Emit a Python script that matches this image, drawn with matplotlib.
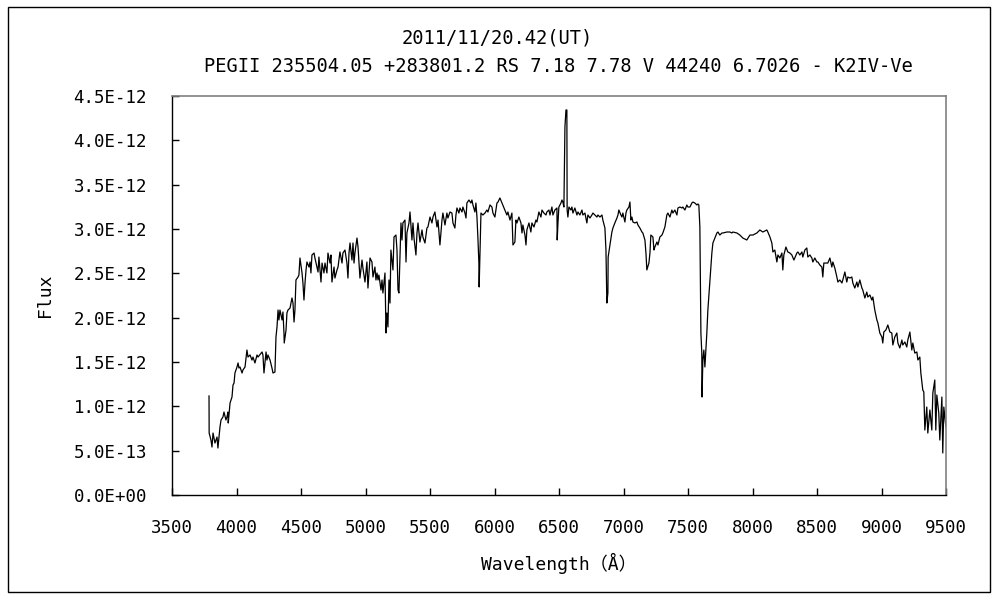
import numpy as np
import matplotlib
matplotlib.use("Agg")
import matplotlib.pyplot as plt
from matplotlib.ticker import FuncFormatter
from matplotlib.patches import Rectangle

title_line1 = "2011/11/20.42(UT)"
title_line2 = "PEGII 235504.05 +283801.2 RS 7.18 7.78 V 44240 6.7026 - K2IV-Ve"
x_label = "Wavelength（Å）"
y_label = "Flux"

# Wavelength (Angstrom)
wavelength = [
    3787, 3788, 3802, 3810, 3818, 3833, 3849, 3856, 3864, 3872, 3880, 3895, 3903, 3918, 3926, 3934, 3936,
    3950, 3965, 3973, 3981, 3988, 4004, 4012, 4019, 4027, 4043, 4050, 4066, 4081, 4089, 4105, 4120, 4128,
    4143, 4159, 4167, 4198, 4205, 4213, 4229, 4236, 4244, 4260, 4275, 4283, 4298, 4306, 4314, 4322, 4329,
    4337, 4353, 4360, 4368, 4370, 4384, 4391, 4399, 4415, 4430, 4438, 4446, 4453, 4461, 4477, 4484, 4492,
    4508, 4515, 4523, 4531, 4539, 4546, 4562, 4570, 4577, 4585, 4601, 4608, 4624, 4632, 4639, 4655, 4663,
    4678, 4686, 4701, 4709, 4725, 4732, 4740, 4756, 4763, 4779, 4787, 4802, 4818, 4825, 4841, 4856, 4864,
    4872, 4880, 4895, 4903, 4911, 4918, 4934, 4942, 4957, 4973, 4980, 4996, 5011, 5019, 5035, 5050, 5058,
    5073, 5081, 5089, 5097, 5104, 5120, 5128, 5135, 5151, 5159, 5166, 5174, 5182, 5190, 5197, 5213, 5221,
    5236, 5244, 5252, 5259, 5275, 5283, 5290, 5306, 5314, 5321, 5337, 5345, 5360, 5368, 5376, 5391, 5399,
    5407, 5422, 5438, 5445, 5461, 5476, 5484, 5500, 5515, 5523, 5538, 5554, 5562, 5577, 5593, 5600, 5616,
    5631, 5639, 5655, 5670, 5678, 5693, 5701, 5709, 5724, 5732, 5748, 5755, 5771, 5779, 5786, 5802, 5817,
    5825, 5833, 5848, 5856, 5864, 5872, 5879, 5881, 5895, 5910, 5926, 5941, 5949, 5965, 5980, 5988, 6003,
    6019, 6027, 6042, 6058, 6065, 6081, 6096, 6104, 6120, 6135, 6143, 6158, 6166, 6174, 6189, 6205, 6213,
    6220, 6236, 6244, 6251, 6267, 6282, 6290, 6306, 6321, 6329, 6344, 6360, 6368, 6383, 6399, 6406, 6422,
    6430, 6445, 6453, 6468, 6484, 6486, 6492, 6499, 6515, 6523, 6530, 6538, 6546, 6554, 6561, 6563, 6569,
    6577, 6592, 6600, 6608, 6623, 6639, 6647, 6662, 6678, 6685, 6701, 6716, 6724, 6740, 6755, 6763, 6778,
    6794, 6802, 6817, 6833, 6840, 6856, 6864, 6871, 6879, 6881, 6887, 6902, 6910, 6918, 6933, 6949, 6957,
    6964, 6980, 6988, 6995, 7011, 7019, 7026, 7042, 7050, 7057, 7065, 7073, 7088, 7104, 7112, 7127, 7143,
    7150, 7166, 7174, 7181, 7197, 7205, 7212, 7228, 7236, 7243, 7259, 7267, 7282, 7298, 7305, 7321, 7336,
    7344, 7360, 7375, 7383, 7398, 7414, 7422, 7437, 7453, 7460, 7476, 7491, 7499, 7515, 7530, 7538, 7553,
    7569, 7577, 7584, 7592, 7600, 7607, 7609, 7615, 7623, 7631, 7646, 7654, 7670, 7685, 7693, 7708, 7724,
    7732, 7747, 7763, 7771, 7801, 7825, 7840, 7848, 7879, 7902, 7925, 7956, 7980, 8003, 8034, 8057, 8080,
    8111, 8119, 8135, 8150, 8158, 8173, 8189, 8197, 8212, 8228, 8235, 8243, 8259, 8274, 8290, 8305, 8321,
    8344, 8352, 8367, 8383, 8390, 8406, 8421, 8429, 8445, 8460, 8468, 8483, 8499, 8507, 8522, 8538, 8545,
    8553, 8576, 8584, 8600, 8615, 8623, 8638, 8654, 8662, 8677, 8693, 8700, 8716, 8731, 8739, 8755, 8770,
    8778, 8793, 8809, 8817, 8832, 8848, 8855, 8871, 8886, 8894, 8910, 8925, 8933, 8948, 8964, 8972, 8987,
    9003, 9010, 9018, 9034, 9049, 9065, 9080, 9088, 9103, 9119, 9127, 9142, 9158, 9165, 9181, 9196, 9204,
    9220, 9235, 9243, 9258, 9274, 9282, 9297, 9305, 9320, 9328, 9336, 9351, 9359, 9375, 9390, 9398, 9413,
    9421, 9429, 9444, 9452, 9468, 9475, 9483, 9499,
]

# Flux in units of 1E-12
flux_e12 = [
    1.117, 0.699, 0.620, 0.541, 0.699, 0.586, 0.654, 0.530, 0.643, 0.767, 0.846, 0.880, 0.936, 0.846, 0.880, 0.936, 0.812,
    1.038, 1.105, 1.241, 1.263, 1.376, 1.444, 1.489, 1.432, 1.444, 1.376, 1.410, 1.444, 1.635, 1.556, 1.579, 1.522, 1.556,
    1.489, 1.579, 1.556, 1.613, 1.579, 1.376, 1.613, 1.522, 1.579, 1.522, 1.432, 1.376, 1.387, 1.782, 1.895, 2.086, 1.974,
    2.086, 1.974, 2.064, 1.827, 1.714, 1.861, 2.053, 2.086, 2.109, 2.222, 2.165, 1.951, 2.086, 2.425, 2.459, 2.481, 2.673,
    2.504, 2.391, 2.199, 2.391, 2.538, 2.628, 2.571, 2.628, 2.504, 2.707, 2.729, 2.673, 2.571, 2.515, 2.684, 2.402, 2.616,
    2.504, 2.616, 2.504, 2.729, 2.616, 2.707, 2.402, 2.571, 2.447, 2.538, 2.571, 2.741, 2.616, 2.729, 2.763, 2.616, 2.447,
    2.729, 2.842, 2.650, 2.842, 2.616, 2.729, 2.898, 2.797, 2.447, 2.650, 2.560, 2.402, 2.628, 2.334, 2.673, 2.628, 2.459,
    2.571, 2.425, 2.504, 2.425, 2.481, 2.312, 2.425, 2.278, 2.504, 1.827, 2.053, 1.895, 2.425, 2.165, 2.763, 2.538, 2.910,
    2.932, 2.763, 2.312, 2.278, 3.068, 2.876, 3.068, 3.101, 2.628, 2.955, 3.068, 3.192, 2.876, 3.068, 2.898, 2.707, 2.955,
    3.068, 2.853, 2.989, 2.910, 2.842, 3.011, 3.023, 3.135, 3.068, 3.135, 3.192, 3.023, 3.101, 2.820, 3.101, 3.180, 3.045,
    3.180, 3.124, 3.192, 3.180, 3.068, 3.011, 3.158, 3.237, 3.180, 3.237, 3.192, 3.248, 3.180, 3.124, 3.293, 3.327, 3.293,
    3.327, 3.271, 3.192, 3.293, 3.135, 2.876, 2.616, 2.346, 3.180, 3.158, 3.180, 3.214, 3.192, 3.271, 3.248, 3.180, 3.135,
    3.293, 3.304, 3.350, 3.293, 3.271, 3.214, 3.158, 3.192, 3.101, 3.180, 2.820, 2.853, 3.101, 3.068, 3.135, 3.068, 2.955,
    3.045, 2.932, 2.820, 2.989, 3.068, 2.966, 3.068, 3.023, 3.101, 3.079, 3.192, 3.135, 3.214, 3.180, 3.158, 3.192, 3.214,
    3.158, 3.248, 3.158, 3.214, 3.237, 2.876, 3.068, 3.248, 3.293, 3.327, 3.304, 3.248, 4.150, 4.342, 4.342, 3.214, 3.135,
    3.248, 3.214, 3.248, 3.180, 3.237, 3.158, 3.192, 3.158, 3.214, 3.158, 3.180, 3.068, 3.158, 3.124, 3.158, 3.180, 3.158,
    3.135, 3.158, 3.135, 3.158, 3.101, 3.011, 2.763, 2.165, 2.278, 2.684, 2.741, 2.876, 2.966, 3.011, 3.068, 3.124, 3.158,
    3.214, 3.158, 3.135, 3.180, 3.079, 3.180, 3.214, 3.248, 3.304, 3.101, 3.135, 3.079, 3.068, 3.079, 3.045, 3.011, 2.966,
    2.955, 2.876, 2.729, 2.538, 2.616, 2.729, 2.932, 2.910, 2.763, 2.797, 2.853, 2.820, 2.910, 2.932, 2.955, 3.023, 3.158,
    3.180, 3.135, 3.214, 3.180, 3.214, 3.158, 3.237, 3.248, 3.237, 3.248, 3.214, 3.271, 3.248, 3.248, 3.293, 3.304, 3.293,
    3.271, 3.282, 3.271, 3.023, 1.827, 1.601, 1.105, 1.523, 1.635, 1.444, 1.827, 2.086, 2.425, 2.729, 2.842, 2.898, 2.955,
    2.966, 2.932, 2.955, 2.955, 2.966, 2.966, 2.955, 2.966, 2.955, 2.932, 2.898, 2.876, 2.932, 2.932, 2.955, 2.989, 2.966,
    2.989, 2.966, 2.910, 2.842, 2.741, 2.763, 2.628, 2.707, 2.673, 2.729, 2.538, 2.707, 2.797, 2.741, 2.729, 2.707, 2.650,
    2.729, 2.741, 2.707, 2.741, 2.684, 2.763, 2.786, 2.684, 2.707, 2.673, 2.628, 2.673, 2.628, 2.628, 2.594, 2.571, 2.459,
    2.616, 2.616, 2.616, 2.673, 2.571, 2.628, 2.560, 2.459, 2.402, 2.425, 2.391, 2.425, 2.515, 2.402, 2.459, 2.447, 2.459,
    2.391, 2.334, 2.402, 2.346, 2.425, 2.334, 2.312, 2.222, 2.289, 2.233, 2.256, 2.199, 2.233, 2.086, 1.974, 1.940, 1.827,
    1.782, 1.714, 1.838, 1.861, 1.917, 1.838, 1.827, 1.692, 1.782, 1.827, 1.714, 1.658, 1.748, 1.692, 1.726, 1.669, 1.748,
    1.838, 1.635, 1.714, 1.601, 1.613, 1.523, 1.556, 1.376, 1.184, 1.162, 0.733, 0.992, 0.699, 0.959, 0.733, 1.150, 1.297,
    0.733, 1.128, 0.925, 0.620, 1.105, 0.474, 0.992, 0.767,
]

x_ticks = [3500, 4000, 4500, 5000, 5500, 6000, 6500, 7000, 7500, 8000, 8500, 9000, 9500]
y_ticks = [0.0, 0.5e-12, 1.0e-12, 1.5e-12, 2.0e-12, 2.5e-12, 3.0e-12, 3.5e-12, 4.0e-12, 4.5e-12]

flux = np.array(flux_e12) * 1e-12

FONT = ['DejaVu Sans Mono', 'Noto Sans CJK JP', 'DejaVu Sans']
plt.rcParams['font.family'] = FONT

fig = plt.figure(figsize=(10, 6), dpi=100)
fig.patch.set_facecolor('white')
fig.add_artist(Rectangle((0.008, 0.0133), 0.982, 0.975, transform=fig.transFigure,
                         fill=False, edgecolor='black', linewidth=1.0))

ax = fig.add_axes([0.172, 0.175, 0.774, 0.665])
ax.plot(wavelength, flux, color='black', linewidth=0.9)
ax.set_xlim(3500, 9500)
ax.set_ylim(0, 4.5e-12)
ax.set_xticks(x_ticks)
ax.set_yticks(y_ticks)
ax.yaxis.set_major_formatter(FuncFormatter(lambda v, p: format(v, '.1E')))
ax.tick_params(direction='in', length=5, width=1, labelsize=12.5, colors='black')
ax.tick_params(axis='y', pad=18)
ax.tick_params(axis='x', pad=17)
for s in ['top', 'right']:
    ax.spines[s].set_color('#808080')
    ax.spines[s].set_linewidth(1.2)
for s in ['left', 'bottom']:
    ax.spines[s].set_color('black')
    ax.spines[s].set_linewidth(1.0)

ax.set_xlabel(x_label, fontsize=13, labelpad=12)
ax.set_ylabel(y_label, fontsize=13, labelpad=14)

fig.text(0.497, 0.937, title_line1, ha='center', va='center', fontsize=13.5)
fig.text(0.558, 0.890, title_line2, ha='center', va='center', fontsize=13.5)

fig.savefig('out.png', dpi=100, facecolor='white')
